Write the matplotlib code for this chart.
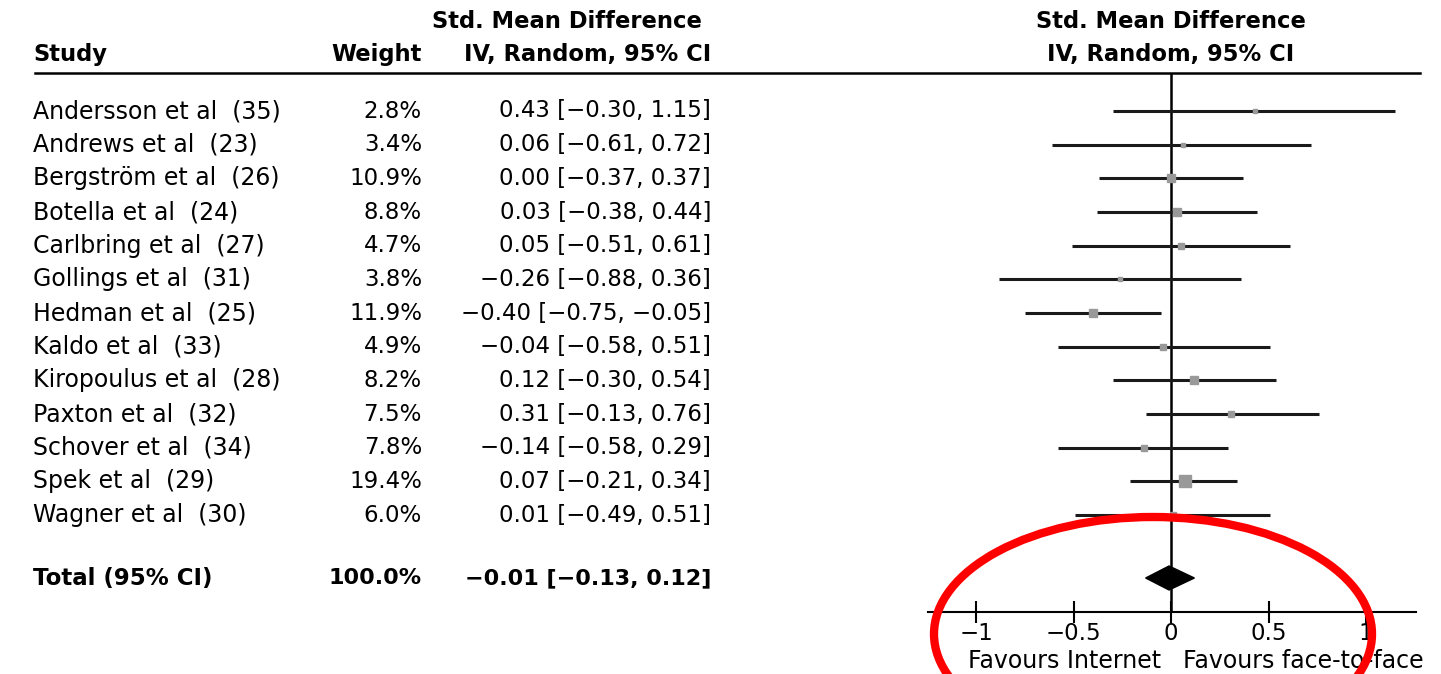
import matplotlib
matplotlib.use("Agg")
import matplotlib.pyplot as plt
from matplotlib.patches import Polygon, Ellipse
from matplotlib.lines import Line2D
import matplotlib.transforms as mtrans
import numpy as np

studies = ["Andersson et al  (35)", "Andrews et al  (23)", "Bergström et al  (26)",
           "Botella et al  (24)", "Carlbring et al  (27)", "Gollings et al  (31)",
           "Hedman et al  (25)", "Kaldo et al  (33)", "Kiropoulus et al  (28)",
           "Paxton et al  (32)", "Schover et al  (34)", "Spek et al  (29)",
           "Wagner et al  (30)"]
weights = [2.8, 3.4, 10.9, 8.8, 4.7, 3.8, 11.9, 4.9, 8.2, 7.5, 7.8, 19.4, 6.0]
smd = [0.43, 0.06, 0.00, 0.03, 0.05, -0.26, -0.40, -0.04, 0.12, 0.31, -0.14, 0.07, 0.01]
lower = [-0.30, -0.61, -0.37, -0.38, -0.51, -0.88, -0.75, -0.58, -0.30, -0.13, -0.58, -0.21, -0.49]
upper = [1.15, 0.72, 0.37, 0.44, 0.61, 0.36, -0.05, 0.51, 0.54, 0.76, 0.29, 0.34, 0.51]
total_label = "Total (95% CI)"
total_weight = 100.0
total_smd, total_lo, total_hi = -0.01, -0.13, 0.12
xticks = [-1, -0.5, 0, 0.5, 1]
xtick_labels = ["\u22121", "\u22120.5", "0", "0.5", "1"]

W, H = 1441, 674
plt.rcParams['font.family'] = ['DejaVu Sans']
fig = plt.figure(figsize=(W / 100, H / 100), dpi=100)

def fy(py):
    return 1 - py / H

def fx(px):
    return px / W

# forest axes
ax_left, ax_right = 928, 1416
ax_top, ax_bot = 73, 612
ax = fig.add_axes([fx(ax_left), fy(ax_bot), (ax_right - ax_left) / W, (ax_bot - ax_top) / H])
row0, rowstep = 111, 33.67
def prow(py):
    return (py - row0) / rowstep
ax.set_ylim(prow(ax_bot), prow(ax_top))
x0px, unit = 1171, 195
ax.set_xlim((ax_left - x0px) / unit, (ax_right - x0px) / unit)

for s in ["top", "left", "right"]:
    ax.spines[s].set_visible(False)
ax.spines["bottom"].set_linewidth(1.5)
ax.set_yticks([])
ax.set_xticks(xticks)
ax.set_xticklabels(xtick_labels, fontsize=16.5)
ax.tick_params(axis="x", direction="inout", length=16, width=1.5, pad=-1)

ax.axvline(0, color="black", lw=1.8, zorder=1)

for i in range(len(studies)):
    ax.plot([lower[i], upper[i]], [i, i], color="#1a1a1a", lw=2.2, zorder=2, solid_capstyle="butt")
    side_px = 2.5 * np.sqrt(weights[i])
    ax.plot(smd[i], i, marker="s", ms=side_px * 0.72, color="#999999", mec="#999999", zorder=3)

ytot = prow(578)
dh = 12 / rowstep
ax.add_patch(Polygon([(total_lo, ytot), (total_smd, ytot - dh), (total_hi, ytot), (total_smd, ytot + dh)],
                     closed=True, color="black", zorder=4))

# favours labels
tr = mtrans.blended_transform_factory(ax.transData, fig.transFigure)
ax.text(-0.05, fy(661), "Favours Internet", transform=tr, ha="right", va="center", fontsize=17)
ax.text(0.06, fy(661), "Favours face-to-face", transform=tr, ha="left", va="center", fontsize=17)

# top rule
fig.add_artist(Line2D([fx(35), fx(1420)], [fy(73), fy(73)], color="black", lw=1.8))

hfs = 16.3
fig.text(fx(567), fy(21), "Std. Mean Difference", ha="center", va="center", fontsize=hfs, fontweight="bold")
fig.text(fx(711), fy(55), "IV, Random, 95% CI", ha="right", va="center", fontsize=hfs, fontweight="bold")
fig.text(fx(33), fy(55), "Study", ha="left", va="center", fontsize=hfs, fontweight="bold")
fig.text(fx(422), fy(55), "Weight", ha="right", va="center", fontsize=hfs, fontweight="bold")
fig.text(fx(1171), fy(21), "Std. Mean Difference", ha="center", va="center", fontsize=hfs, fontweight="bold")
fig.text(fx(1171), fy(55), "IV, Random, 95% CI", ha="center", va="center", fontsize=hfs, fontweight="bold")

def fmt(v):
    return ("\u2212" if v < 0 else "") + f"{abs(v):.2f}"

for i in range(len(studies)):
    py = row0 + i * rowstep
    fig.text(fx(33), fy(py), studies[i], ha="left", va="center", fontsize=17)
    fig.text(fx(422), fy(py), f"{weights[i]:.1f}%", ha="right", va="center", fontsize=16.5)
    fig.text(fx(711), fy(py), f"{fmt(smd[i])} [{fmt(lower[i])}, {fmt(upper[i])}]",
             ha="right", va="center", fontsize=16.5)

fig.text(fx(33), fy(578), total_label, ha="left", va="center", fontsize=16.5, fontweight="bold")
fig.text(fx(422), fy(578), f"{total_weight:.1f}%", ha="right", va="center", fontsize=16, fontweight="bold")
fig.text(fx(711), fy(578), f"{fmt(total_smd)} [{fmt(total_lo)}, {fmt(total_hi)}]",
         ha="right", va="center", fontsize=16, fontweight="bold")

# red annotation ellipse (figure pixel coords)
ell = Ellipse((fx(1153), fy(634)), width=438 / W, height=234 / H, transform=fig.transFigure,
              fill=False, edgecolor="#ff0000", lw=6, zorder=10)
fig.add_artist(ell)

fig.savefig("out.png", dpi=100, facecolor="white")
